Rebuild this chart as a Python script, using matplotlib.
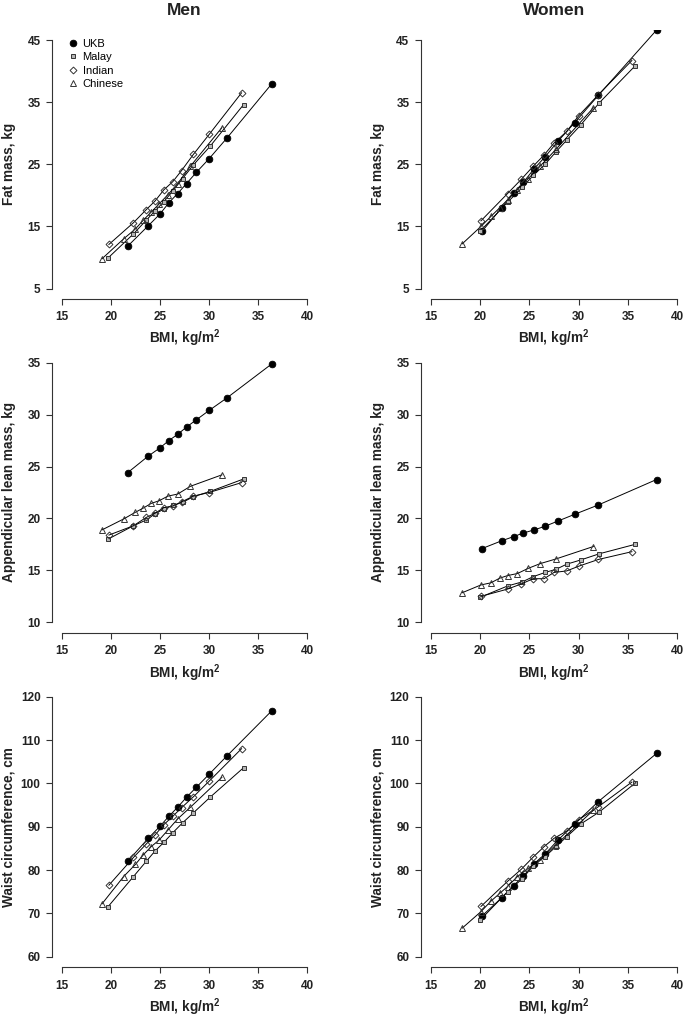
import matplotlib
matplotlib.use('Agg')
import matplotlib.pyplot as plt
from matplotlib.lines import Line2D

plt.rcParams['font.family'] = ['Liberation Sans', 'DejaVu Sans']
plt.rcParams['mathtext.fontset'] = 'custom'
plt.rcParams['mathtext.rm'] = 'Liberation Sans'
plt.rcParams['mathtext.bf'] = 'Liberation Sans:bold'

groups = ['UKB', 'Malay', 'Indian', 'Chinese']

# ---------------- Men ----------------
men_bmi_ukb = [21.7, 23.8, 25.0, 25.9, 26.8, 27.7, 28.7, 30.0, 31.8, 36.4]
men_bmi_malay = [19.7, 22.3, 23.6, 24.5, 25.4, 26.3, 27.3, 28.4, 30.1, 33.5]
men_bmi_indian = [19.8, 22.3, 23.6, 24.5, 25.4, 26.3, 27.2, 28.4, 30.0, 33.3]
men_bmi_chinese = [19.1, 21.3, 22.5, 23.3, 24.1, 24.9, 25.8, 26.8, 28.1, 31.3]

men_fat_ukb = [11.8, 15.1, 17.0, 18.8, 20.3, 21.9, 23.7, 25.9, 29.2, 38.0]
men_fat_malay = [9.9, 13.8, 16.0, 17.5, 19.0, 20.7, 22.7, 24.9, 27.9, 34.6]
men_fat_indian = [12.1, 15.6, 17.7, 19.1, 20.9, 22.2, 24.0, 26.6, 29.8, 36.5]
men_fat_chinese = [9.8, 13.0, 14.6, 16.0, 17.3, 18.6, 20.1, 21.9, 24.7, 30.9]

men_alm_ukb = [24.4, 26.0, 26.8, 27.5, 28.1, 28.8, 29.5, 30.4, 31.6, 34.9]
men_alm_malay = [18.0, 19.3, 19.85, 20.45, 20.9, 21.25, 21.55, 22.1, 22.6, 23.8]
men_alm_indian = [18.4, 19.3, 20.1, 20.5, 21.05, 21.2, 21.6, 22.15, 22.5, 23.45]
men_alm_chinese = [18.9, 19.95, 20.6, 21.0, 21.45, 21.7, 22.15, 22.35, 23.1, 24.2]

men_waist_ukb = [82.0, 87.3, 90.1, 92.4, 94.5, 96.8, 99.1, 102.1, 106.3, 116.8]
men_waist_malay = [71.5, 78.5, 82.0, 84.4, 86.4, 88.6, 90.9, 93.2, 96.8, 103.6]
men_waist_indian = [76.5, 82.9, 86.0, 88.1, 90.5, 92.4, 94.4, 96.9, 100.5, 108.0]
men_waist_chinese = [72.2, 78.5, 81.3, 83.5, 85.4, 86.9, 89.2, 91.8, 94.5, 101.4]

# ---------------- Women ----------------
women_bmi_ukb = [20.2, 22.2, 23.4, 24.4, 25.5, 26.6, 27.9, 29.6, 32.0, 37.9]
women_bmi_malay = [20.0, 22.8, 24.3, 25.4, 26.6, 27.7, 28.8, 30.2, 32.1, 35.7]
women_bmi_indian = [20.1, 22.8, 24.2, 25.4, 26.5, 27.5, 28.8, 30.0, 32.0, 35.4]
women_bmi_chinese = [18.2, 20.1, 21.1, 22.0, 22.8, 23.8, 24.9, 26.1, 27.7, 31.5]

women_fat_ukb = [14.2, 18.0, 20.4, 22.1, 24.3, 26.2, 28.7, 31.7, 36.1, 46.6]
women_fat_malay = [14.2, 18.9, 21.3, 23.2, 25.0, 27.0, 28.9, 31.3, 34.9, 40.8]
women_fat_indian = [15.9, 20.3, 22.6, 24.7, 26.5, 28.4, 30.3, 32.8, 36.2, 41.7]
women_fat_chinese = [12.2, 15.0, 16.6, 18.0, 19.3, 20.9, 22.7, 24.7, 27.4, 34.1]

women_alm_ukb = [17.1, 17.85, 18.25, 18.6, 18.9, 19.25, 19.75, 20.4, 21.3, 23.75]
women_alm_malay = [12.4, 13.5, 13.9, 14.4, 14.8, 15.1, 15.6, 16.0, 16.6, 17.5]
women_alm_indian = [12.5, 13.2, 13.7, 14.2, 14.2, 14.8, 14.95, 15.4, 16.05, 16.8]
women_alm_chinese = [12.85, 13.6, 13.8, 14.25, 14.5, 14.7, 15.2, 15.65, 16.1, 17.3]

women_waist_ukb = [69.4, 73.6, 76.4, 78.6, 81.5, 83.7, 86.9, 90.6, 95.8, 106.9]
women_waist_malay = [68.4, 75.0, 78.0, 81.0, 83.1, 85.4, 87.7, 90.6, 93.4, 100.0]
women_waist_indian = [71.6, 77.4, 80.2, 83.0, 85.4, 87.3, 89.0, 91.6, 94.6, 100.3]
women_waist_chinese = [66.6, 70.4, 72.8, 74.6, 76.2, 78.5, 80.4, 82.4, 85.8, 93.8]

x_ticks = [15, 20, 25, 30, 35, 40]
fat_ticks = [5, 15, 25, 35, 45]
alm_ticks = [10, 15, 20, 25, 30, 35]
waist_ticks = [60, 70, 80, 90, 100, 110, 120]

y_labels = ['Fat mass, kg', 'Appendicular lean mass, kg', 'Waist circumference, cm']
x_label = r'BMI, kg/m$^{\mathbf{2}}$'

# --- styles ---
EDGE = '#333333'
styles = {
    'UKB': dict(marker='o', ms=4.8, mfc='black', mec='black', mew=0.6),
    'Malay': dict(marker='s', ms=3.2, mfc='#b5b5b5', mec=EDGE, mew=0.7),
    'Indian': dict(marker='D', ms=3.5, mfc='none', mec=EDGE, mew=0.7),
    'Chinese': dict(marker='^', ms=4.5, mfc='none', mec=EDGE, mew=0.7),
}

W, H = 683, 1019
fig = plt.figure(figsize=(W / 100, H / 100), dpi=100)

col_px = [(51.9, 265.3), (420.8, 266.3)]
row_px = [(30.1, 298.5), (352.3, 632.7), (686.3, 967.1)]

data = [
    [  # men
        (men_bmi_ukb, men_bmi_malay, men_bmi_indian, men_bmi_chinese),
        [(men_fat_ukb, men_fat_malay, men_fat_indian, men_fat_chinese),
         (men_alm_ukb, men_alm_malay, men_alm_indian, men_alm_chinese),
         (men_waist_ukb, men_waist_malay, men_waist_indian, men_waist_chinese)],
    ],
    [  # women
        (women_bmi_ukb, women_bmi_malay, women_bmi_indian, women_bmi_chinese),
        [(women_fat_ukb, women_fat_malay, women_fat_indian, women_fat_chinese),
         (women_alm_ukb, women_alm_malay, women_alm_indian, women_alm_chinese),
         (women_waist_ukb, women_waist_malay, women_waist_indian, women_waist_chinese)],
    ],
]

yticks_list = [fat_ticks, alm_ticks, waist_ticks]
titles = ['Men', 'Women']

for c in range(2):
    left, width = col_px[c]
    bmis, outcomes = data[c]
    for r in range(3):
        top, bot = row_px[r]
        ax = fig.add_axes([left / W, 1 - bot / H, width / W, (bot - top) / H])
        yt = yticks_list[r]
        for g, xs, ys in zip(groups, bmis, outcomes[r]):
            ax.plot(xs, ys, color='black', lw=0.7, **styles[g], zorder=3)
        xr = x_ticks[-1] - x_ticks[0]
        yr = yt[-1] - yt[0]
        ax.set_xlim(x_ticks[0] - 0.04 * xr, x_ticks[-1] + 0.04 * xr)
        ax.set_ylim(yt[0] - 0.04 * yr, yt[-1] + 0.04 * yr)
        ax.set_xticks(x_ticks)
        ax.set_yticks(yt)
        for s in ['top', 'right']:
            ax.spines[s].set_visible(False)
        ax.spines['left'].set_bounds(yt[0], yt[-1])
        ax.spines['bottom'].set_bounds(x_ticks[0], x_ticks[-1])
        for s in ['left', 'bottom']:
            ax.spines[s].set_color(EDGE)
            ax.spines[s].set_linewidth(0.8)
        ax.tick_params(axis='x', length=4.2, width=0.8, color=EDGE, pad=5.0,
                       labelsize=8.5)
        ax.tick_params(axis='y', length=4.2, width=0.8, color=EDGE, pad=4.0,
                       labelsize=8.5)
        for lab in ax.get_xticklabels() + ax.get_yticklabels():
            lab.set_fontweight('bold')
            lab.set_color('#222222')
        ax.patch.set_alpha(0)
        # axis labels
        fig.text((left - 43) / W, 1 - ((top + bot) / 2) / H, y_labels[r],
                 rotation=90, ha='center', va='center', fontsize=9.8,
                 fontweight='bold', color='#222222')
        x0 = left + 0.04 / 1.08 * width
        x1 = left + width - 0.04 / 1.08 * width
        fig.text((x0 + x1) / 2 / W, 1 - (bot + 40) / H, x_label,
                 ha='center', va='center', fontsize=9.8, fontweight='bold',
                 color='#222222')
        if r == 0:
            fig.text((x0 + x1) / 2 / W, 1 - 15 / H, titles[c], ha='center',
                     va='baseline', fontsize=12.5, fontweight='bold',
                     color='#222222')
        if c == 0 and r == 0:
            handles = [Line2D([], [], ls='none', **styles[g]) for g in groups]
            ax.legend(handles, groups, loc='upper left',
                      bbox_to_anchor=(0.055, 0.975), frameon=False,
                      fontsize=8, handlelength=0.8, handletextpad=0.45,
                      labelspacing=0.3, borderaxespad=0.0, borderpad=0.2)

fig.savefig('out.png', dpi=100)
